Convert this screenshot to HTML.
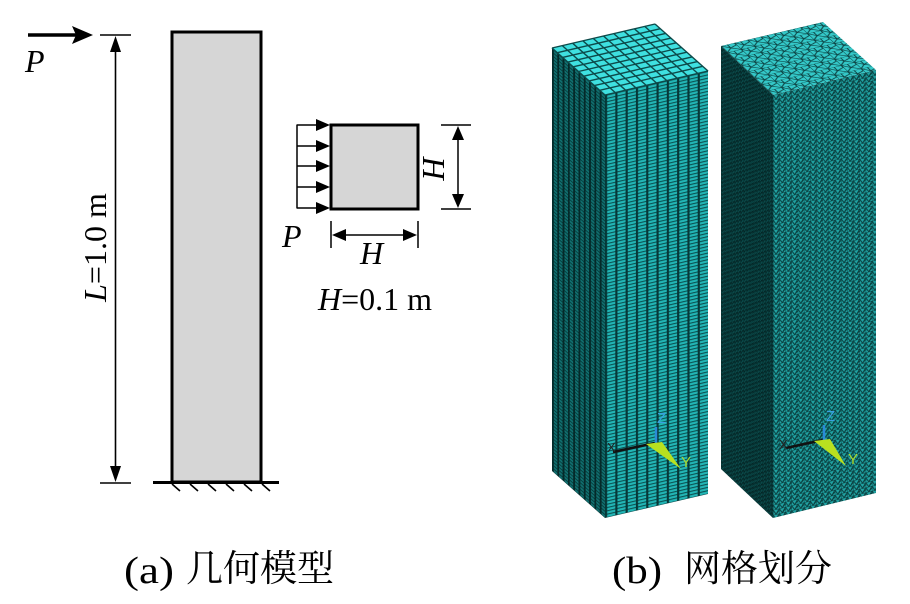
<!DOCTYPE html>
<html><head><meta charset="utf-8"><style>
html,body{margin:0;padding:0;background:#fff;}
svg{display:block;}
text{font-family:"Liberation Serif","Noto Serif CJK SC",serif;fill:#000;}
</style></head><body>
<svg width="910" height="604" viewBox="0 0 910 604" xmlns="http://www.w3.org/2000/svg">
<defs>
<pattern id="hexR" patternUnits="userSpaceOnUse" width="10" height="3.3" patternTransform="matrix(1.03,-0.24,0,1,605,95)">
<rect width="10" height="3.3" fill="#22b6b6"/><rect width="10" height="1.1" fill="#0b5050"/><rect width="2.1" height="3.3" fill="#063838"/>
</pattern>
<pattern id="hexL" patternUnits="userSpaceOnUse" width="10" height="3.3" patternTransform="matrix(0.53,0.47,0,1,552,48)">
<rect width="10" height="3.3" fill="#117070"/><rect width="10" height="1.1" fill="#063a3a"/><rect width="3.5" height="3.3" fill="#042a2a"/>
</pattern>
<pattern id="tetTop" patternUnits="userSpaceOnUse" width="13" height="13" patternTransform="matrix(1.02,-0.24,0.52,0.49,721,46)">
<rect width="13" height="13" fill="#34c8c8"/>
<path d="M0 0H13M0 0V13M0 0L6 7L13 13M6 7L13 4M6 7L0 13M6 0L6 7M13 4L13 0" stroke="#0c4444" stroke-width="1.1" fill="none"/>
</pattern>
<pattern id="tetL" patternUnits="userSpaceOnUse" width="6" height="4" patternTransform="matrix(0.52,0.49,0,1,721,46)">
<rect width="6" height="4" fill="#0a4a4a"/>
<path d="M0 0H6M0 0L3 4L6 0M0 4L3 2" stroke="#032020" stroke-width="0.8" fill="none"/>
</pattern>
<pattern id="tetR" patternUnits="userSpaceOnUse" width="6" height="5" patternTransform="matrix(1.03,-0.25,0,1,773,95)">
<rect width="6" height="5" fill="#20a2a2"/>
<path d="M0 0H6M0 0V5M0 0L3 5L6 0M3 5L6 2" stroke="#0a3e3e" stroke-width="0.9" fill="none"/>
</pattern>
</defs>

<!-- ===== (a) geometry ===== -->
<line x1="28" y1="35" x2="76" y2="35" stroke="#000" stroke-width="3.5"/>
<polygon points="72,26 93,35 72,44 76,35" fill="#000"/>
<text x="25" y="72" font-size="32" font-style="italic">P</text>

<line x1="100" y1="35" x2="131" y2="35" stroke="#000" stroke-width="1.6"/>
<line x1="100" y1="483" x2="131" y2="483" stroke="#000" stroke-width="1.6"/>
<line x1="115.5" y1="45" x2="115.5" y2="473" stroke="#000" stroke-width="1.6"/>
<polygon points="115.5,36 110,52 121,52" fill="#000"/>
<polygon points="115.5,482 110,466 121,466" fill="#000"/>
<text transform="translate(106,247.5) rotate(-90)" font-size="32" text-anchor="middle"><tspan font-style="italic">L</tspan>=1.0 m</text>

<rect x="172" y="32" width="89" height="450" fill="#d6d6d6" stroke="#000" stroke-width="3"/>
<line x1="153" y1="482.5" x2="279" y2="482.5" stroke="#000" stroke-width="3"/>
<g stroke="#000" stroke-width="1.6">
<line x1="172" y1="484" x2="180" y2="491"/>
<line x1="190" y1="484" x2="198" y2="491"/>
<line x1="208" y1="484" x2="216" y2="491"/>
<line x1="226" y1="484" x2="234" y2="491"/>
<line x1="244" y1="484" x2="252" y2="491"/>
<line x1="262" y1="484" x2="270" y2="491"/>
</g>

<rect x="331" y="125" width="87" height="84" fill="#d6d6d6" stroke="#000" stroke-width="3"/>
<line x1="297" y1="124.5" x2="297" y2="208.5" stroke="#000" stroke-width="1.5"/>
<g stroke="#000" stroke-width="1.5">
<line x1="297" y1="125" x2="320" y2="125"/>
<line x1="297" y1="146" x2="320" y2="146"/>
<line x1="297" y1="166" x2="320" y2="166"/>
<line x1="297" y1="187" x2="320" y2="187"/>
<line x1="297" y1="208" x2="320" y2="208"/>
</g>
<g fill="#000">
<polygon points="316,119 330,125 316,131"/>
<polygon points="316,140 330,146 316,152"/>
<polygon points="316,160 330,166 316,172"/>
<polygon points="316,181 330,187 316,193"/>
<polygon points="316,202 330,208 316,214"/>
</g>
<text x="282" y="247" font-size="32" font-style="italic">P</text>

<line x1="331" y1="221" x2="331" y2="248" stroke="#000" stroke-width="1.5"/>
<line x1="418" y1="221" x2="418" y2="248" stroke="#000" stroke-width="1.5"/>
<line x1="340" y1="235" x2="409" y2="235" stroke="#000" stroke-width="1.5"/>
<polygon points="332,235 346,229 346,241" fill="#000"/>
<polygon points="417,235 403,229 403,241" fill="#000"/>
<text x="360" y="264" font-size="32" font-style="italic">H</text>

<line x1="441" y1="125" x2="471" y2="125" stroke="#000" stroke-width="1.5"/>
<line x1="441" y1="209" x2="471" y2="209" stroke="#000" stroke-width="1.5"/>
<line x1="458" y1="134" x2="458" y2="200" stroke="#000" stroke-width="1.5"/>
<polygon points="458,126 452,140 464,140" fill="#000"/>
<polygon points="458,208 452,194 464,194" fill="#000"/>
<text transform="translate(423,168) rotate(90)" font-size="32" font-style="italic" text-anchor="middle">H</text>

<text x="318" y="310" font-size="32"><tspan font-style="italic">H</tspan>=0.1 m</text>

<!-- ===== (b) mesh ===== -->
<polygon points="552,48 605,95 605,518 552,471" fill="url(#hexL)"/>
<polygon points="605,95 708,71 708,494 605,518" fill="url(#hexR)"/>
<polygon points="552,48 655,24 708,71 605,95" fill="#3fe0e0"/>
<g stroke="#0d4a4a" stroke-width="1.4">
<line x1="552" y1="48" x2="655" y2="24"/>
<line x1="557.3" y1="52.7" x2="660.3" y2="28.7"/>
<line x1="562.6" y1="57.4" x2="665.6" y2="33.4"/>
<line x1="567.9" y1="62.1" x2="670.9" y2="38.1"/>
<line x1="573.2" y1="66.8" x2="676.2" y2="42.8"/>
<line x1="578.5" y1="71.5" x2="681.5" y2="47.5"/>
<line x1="583.8" y1="76.2" x2="686.8" y2="52.2"/>
<line x1="589.1" y1="80.9" x2="692.1" y2="56.9"/>
<line x1="594.4" y1="85.6" x2="697.4" y2="61.6"/>
<line x1="599.7" y1="90.3" x2="702.7" y2="66.3"/>
<line x1="605" y1="95" x2="708" y2="71"/>
<line x1="552" y1="48" x2="605" y2="95"/>
<line x1="562.3" y1="45.6" x2="615.3" y2="92.6"/>
<line x1="572.6" y1="43.2" x2="625.6" y2="90.2"/>
<line x1="582.9" y1="40.8" x2="635.9" y2="87.8"/>
<line x1="593.2" y1="38.4" x2="646.2" y2="85.4"/>
<line x1="603.5" y1="36" x2="656.5" y2="83"/>
<line x1="613.8" y1="33.6" x2="666.8" y2="80.6"/>
<line x1="624.1" y1="31.2" x2="677.1" y2="78.2"/>
<line x1="634.4" y1="28.8" x2="687.4" y2="75.8"/>
<line x1="644.7" y1="26.4" x2="697.7" y2="73.4"/>
<line x1="655" y1="24" x2="708" y2="71"/>
</g>

<polygon points="721,46 773,95 773,518 721,469" fill="url(#tetL)"/>
<polygon points="773,95 876,70 876,493 773,518" fill="url(#tetR)"/>
<polygon points="721,46 823,22 876,70 773,95" fill="url(#tetTop)"/>

<g>
<line x1="655" y1="443" x2="613" y2="452" stroke="#111" stroke-width="2.5"/>
<line x1="656" y1="443" x2="656" y2="427" stroke="#2a8ad8" stroke-width="2.5"/>
<polygon points="646,444 662,442 681,469" fill="#b8e020"/>
<text x="607" y="452" font-size="13" style="fill:#222;font-family:'Liberation Sans',sans-serif">X</text>
<text x="657" y="423" font-size="15" style="fill:#3aa0e0;font-family:'Liberation Sans',sans-serif">Z</text>
<text x="681" y="467" font-size="15" style="fill:#a8d830;font-family:'Liberation Sans',sans-serif">Y</text>
</g>
<g>
<line x1="823" y1="440" x2="786" y2="448" stroke="#111" stroke-width="2.5"/>
<line x1="824" y1="440" x2="824" y2="425" stroke="#2a8ad8" stroke-width="2.5"/>
<polygon points="814,441 830,439 846,466" fill="#b8e020"/>
<text x="779" y="449" font-size="13" style="fill:#222;font-family:'Liberation Sans',sans-serif">X</text>
<text x="826" y="421" font-size="15" style="fill:#3aa0e0;font-family:'Liberation Sans',sans-serif">Z</text>
<text x="848" y="464" font-size="15" style="fill:#a8d830;font-family:'Liberation Sans',sans-serif">Y</text>
</g>

<text x="124" y="583" font-size="38" textLength="50" lengthAdjust="spacingAndGlyphs">(a)</text>
<text x="186" y="581" font-size="37" textLength="148" lengthAdjust="spacingAndGlyphs">几何模型</text>
<text x="612" y="583" font-size="38" textLength="50" lengthAdjust="spacingAndGlyphs">(b)</text>
<text x="684" y="581" font-size="37" textLength="148" lengthAdjust="spacingAndGlyphs">网格划分</text>
</svg>
</body></html>
